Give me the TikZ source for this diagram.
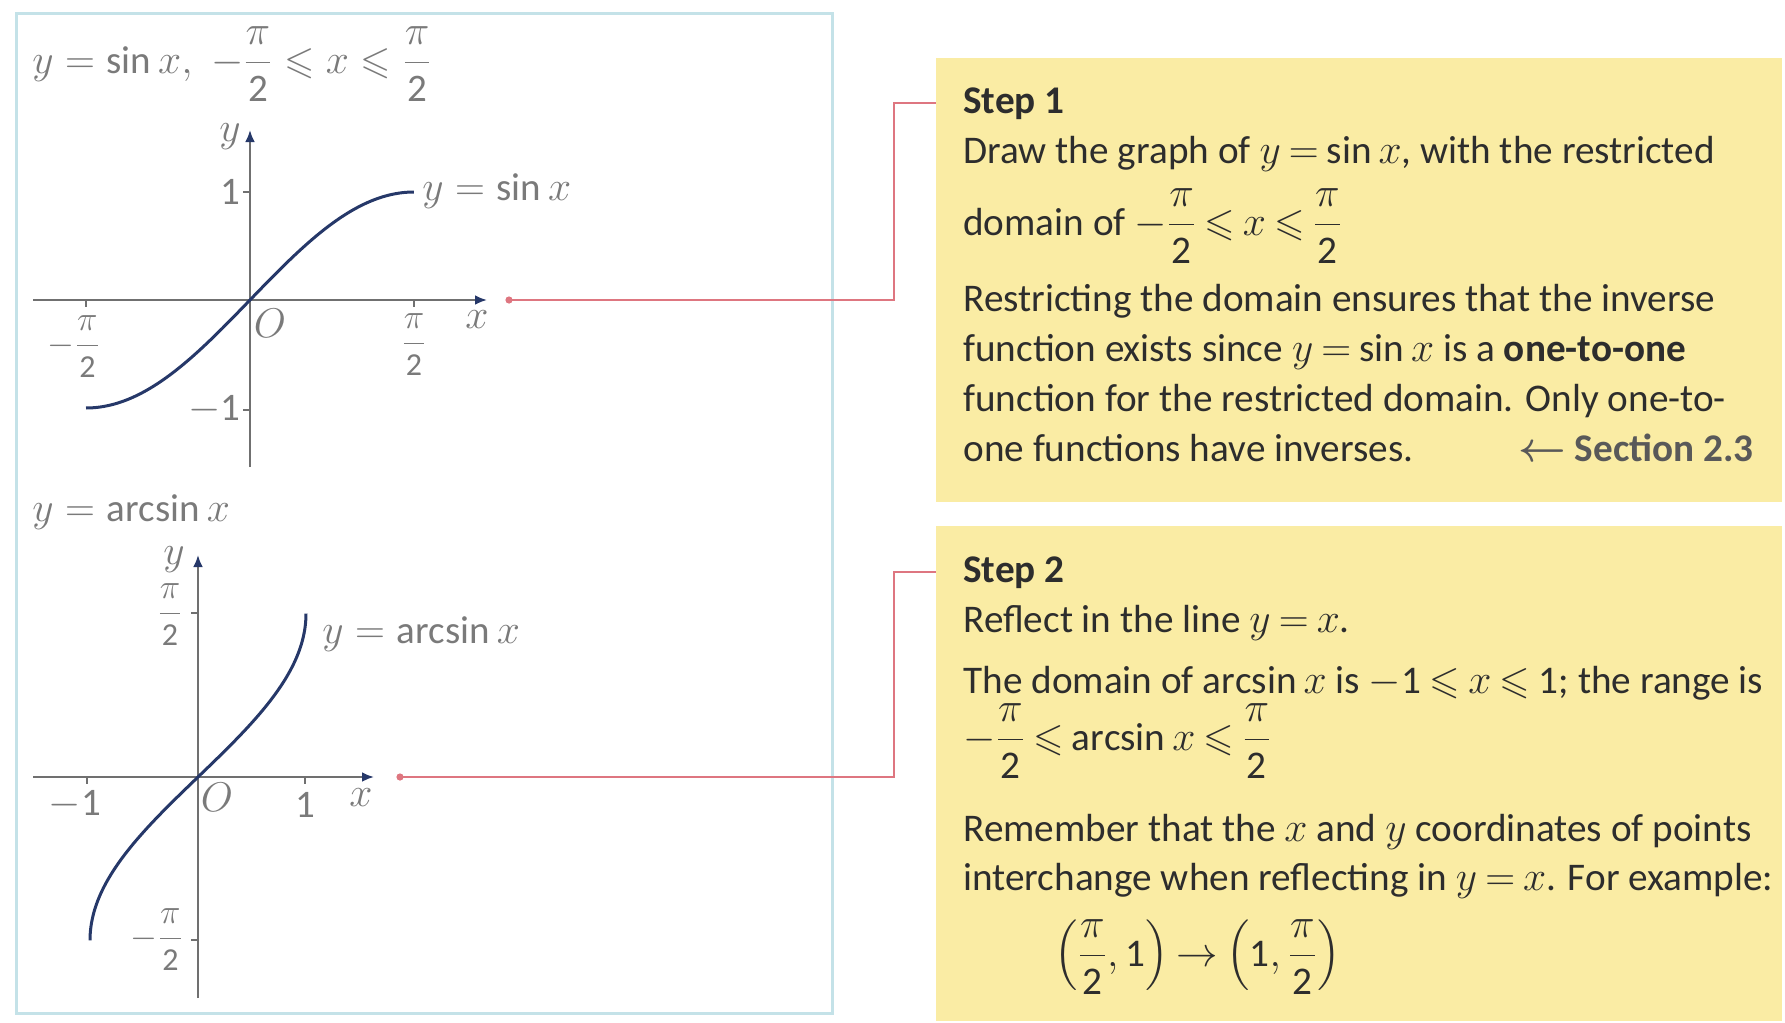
\documentclass[tikz,border=0pt]{standalone}
\usepackage{amsmath,amssymb}
\usepackage{fontspec}
\setmainfont{Carlito}
\usetikzlibrary{arrows.meta}

\definecolor{panelline}{RGB}{196,226,232}
\definecolor{boxfill}{RGB}{250,236,164}
\definecolor{linkred}{RGB}{222,118,128}
\definecolor{curveblue}{RGB}{38,56,105}
\definecolor{axisgray}{RGB}{112,112,112}
\definecolor{labelgray}{RGB}{122,122,122}
\definecolor{textdark}{RGB}{45,45,45}

\newcommand{\halfpi}{\dfrac{\pi}{\text{2}}}
\newcommand{\tightmath}{\thickmuskip=3.5mu plus 2mu\medmuskip=3mu plus 1mu}

\begin{document}
\begin{tikzpicture}[x=0.5pt,y=-0.5pt,
  txt/.style={anchor=base west,inner sep=0pt,text=textdark,font=\fontsize{19.6}{25}\selectfont\tightmath},
  lbl/.style={inner sep=0pt,text=labelgray,font=\fontsize{19.5}{24}\selectfont},
  fr/.style={lbl,font=\fontsize{16}{20}\selectfont},
  axis/.style={draw=axisgray,line width=1.2pt,-{Latex[length=6pt,width=5pt,color=curveblue]}},
  tick/.style={draw=axisgray,line width=0.8pt},
  curve/.style={draw=curveblue,line width=1.5pt},
  link/.style={draw=linkred,line width=1.2pt},
  box/.style={fill=boxfill,inner sep=0pt,anchor=north west,minimum width=423pt}]
\useasboundingbox (0,0) rectangle (1785,1023);
\draw[panelline,line width=1.5pt] (16,13) rectangle (832,1013);

% y = sin x
\node[lbl,anchor=base west] (g1title) at (32,73) {$y=\sin x,\;-\halfpi\leqslant x\leqslant\halfpi$};
\draw[axis] (33,300) -- (487,300);
\draw[axis] (250,467) -- (250,130);
\foreach \t in {86,414}{ \draw[tick] (\t,300) -- (\t,307); }
\foreach \t in {192,410}{ \draw[tick] (250,\t) -- (243,\t); }
\draw[curve] plot[domain=-pi/2:pi/2,samples=60,smooth] ({250+104.4*\x},{300-108*sin(\x r)});
\node[lbl] (g1y) at (230,137) {$y$};
\node[lbl,anchor=east] (g1one) at (241,192) {1};
\node[lbl,anchor=east] (g1mone) at (241,410) {$-$1};
\node[lbl] (g1o) at (270,323) {$O$};
\node[lbl] (g1x) at (477,320) {$x$};
\node[fr] (g1mpi) at (74,347) {$-\halfpi$};
\node[fr] (g1pi) at (414,345) {$\halfpi$};
\node[lbl,anchor=base west] (g1lab) at (422,200) {$y=\sin x$};

% y = arcsin x
\node[lbl,anchor=base west] (g2title) at (32,521) {$y=\arcsin x$};
\draw[axis] (33,777) -- (374,777);
\draw[axis] (198,998) -- (198,555);
\foreach \t in {87,305}{ \draw[tick] (\t,777) -- (\t,784); }
\foreach \t in {613,940}{ \draw[tick] (198,\t) -- (191,\t); }
\draw[curve] plot[domain=-pi/2:pi/2,samples=60,smooth] ({198+108*sin(\x r)},{777-104*\x});
\node[lbl] (g2y) at (174,560) {$y$};
\node[fr] (g2pi) at (170,615) {$\halfpi$};
\node[fr] (g2mpi) at (157,940) {$-\halfpi$};
\node[lbl] (g2mone) at (75,805) {$-$1};
\node[lbl] (g2o) at (217,797) {$O$};
\node[lbl] (g2one) at (305,805) {1};
\node[lbl] (g2x) at (361,798) {$x$};
\node[lbl,anchor=base west] (g2lab) at (322,643) {$y=\arcsin x$};

% step boxes
\node[box,minimum height=222pt] (box1) at (936,58) {};
\node[box,minimum height=247.5pt] (box2) at (936,526) {};

\node[txt] (step1) at (963,113) {\bfseries Step 1};
\node[txt] (s1a) at (963,163) {Draw the graph of $y=\sin x$, with the restricted};
\node[txt] (s1b) at (963,235) {domain of $-\halfpi\leqslant x\leqslant\halfpi$};
\node[txt] (s1c) at (963,311) {Restricting the domain ensures that the inverse};
\node[txt] (s1d) at (963,361) {function exists since $y=\sin x$ is a \textbf{one-to-one}};
\node[txt] (s1e) at (963,411) {function for the restricted domain. Only one-to-};
\node[txt] (s1f) at (963,461) {one functions have inverses.};
\node[txt,anchor=base east,text=black!65] (sec) at (1754,461) {\bfseries $\boldsymbol{\leftarrow}$ Section 2.3};

\node[txt] (step2) at (963,582) {\bfseries Step 2};
\node[txt] (s2a) at (963,632) {Reflect in the line $y=x$.};
\node[txt] (s2b) at (963,693) {The domain of $\arcsin x$ is $-$1 $\leqslant x\leqslant$ 1; the range is};
\node[txt] (s2c) at (963,750) {$-\halfpi\leqslant\arcsin x\leqslant\halfpi$};
\node[txt] (s2d) at (963,841) {Remember that the $x$ and $y$ coordinates of points};
\node[txt] (s2e) at (963,890) {interchange when reflecting in $y=x$. For example:};
\node[txt] (s2f) at (1054,966) {$\Bigl(\halfpi,\text{1}\Bigr)\to\Bigl(\text{1},\halfpi\Bigr)$};

% links
\coordinate (dot1) at (509,300);
\coordinate (bend1) at (894,300);
\coordinate (dot2) at (400,777);
\coordinate (bend2) at (894,777);
\draw[link] (dot1) -- (bend1) |- (box1.west |- step1.west);
\draw[link] (dot2) -- (bend2) |- (box2.west |- step2.west);
\fill[linkred] (dot1) circle (1.8pt);
\fill[linkred] (dot2) circle (1.8pt);
\end{tikzpicture}
\end{document}
